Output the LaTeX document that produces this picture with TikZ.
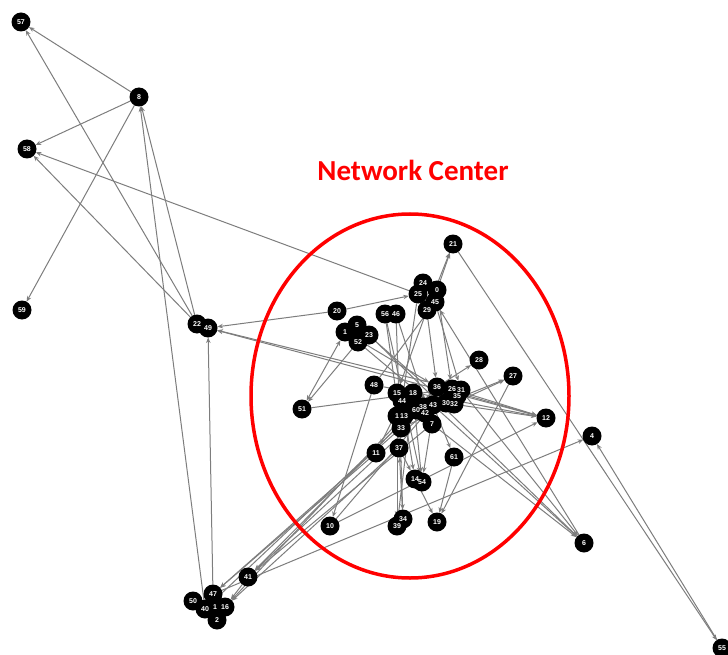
\documentclass[tikz,border=0pt]{standalone}
\usepackage{fontspec}
\setmainfont{Liberation Sans}
\newfontfamily\titlefont{Carlito}
\usetikzlibrary{arrows.meta}
\pgfdeclarelayer{edges}
\pgfsetlayers{edges,main}
\definecolor{edgegray}{RGB}{125,125,125}
\begin{document}
\begin{tikzpicture}[x=1pt,y=-1pt,
  vtx/.style={circle,fill=black,minimum size=19pt,inner sep=0pt,outer sep=0pt},
  vlbl/.style={text=white,font=\fontsize{7}{8}\selectfont\bfseries,inner sep=0pt},
  link/.style={draw=edgegray,line width=1pt,-{Stealth[length=5.5pt,width=4.5pt]}},
  dlink/.style={draw=edgegray,line width=1pt,{Stealth[length=5.5pt,width=4.5pt]}-{Stealth[length=5.5pt,width=4.5pt]}},
  hub/.style={draw=red,line width=3.5pt},
  headline/.style={text=red,font=\titlefont\bfseries\fontsize{29}{32}\selectfont}]
\useasboundingbox (0,0) rectangle (728,655);

% vertices: id / x / y / printed label
\def\vertices{57/21/22/57, 8/139/97/8, 58/27/149/58, 59/22/310/59,
  22/197/324/22, 49/208/328/49, 20/337/311/20, 56/385/314/56, 46/396/314/46,
  1/345/332/1, 5/357/325/5, 23/369/335/23, 52/358/342/52,
  24/423/283/24, 0/437/290/0, 25/418/294/25, 45/435/302/45, 29/427/310/29,
  21/453/244/21, 28/479/360/28, 27/513/376/27, 12/546/418/12, 4/592/436/4,
  55/722/648/55, 6/584/543/6, 48/374/385/48, 51/302/409/51,
  15/397/393/15, 18/413/393/18, 44/402/401/44, 36/437/387/36,
  26/452/389/26, 31/461/390/31, 35/457/396/35, 30/446/403/30, 32/454/404/32,
  43/433/405/43, 38/423/407/38, 42/425/413/42, 60/416/410/60,
  c1/397/416/1, 13/404/416/13, 33/401/428/33, 7/432/424/7,
  37/399/448/37, 11/376/453/11, 61/454/457/61, 14/415/479/14, 54/422/482/54,
  34/403/519/34, 39/397/526/39, 19/437/522/19, 10/330/526/10,
  41/248/577/41, 47/213/594/47, 50/193/601/50, 40/205/609/40,
  b1/215/607/1, 16/225/607/16, 2/217/620/2}

\foreach \id/\x/\y/\t in \vertices
  \node[vtx] (n\id) at (\x,\y) {};

% directed links
\begin{pgfonlayer}{edges}
\foreach \a/\b in {8/57, 22/57, 8/58, 22/58, 8/59, 22/8, 40/8, 25/58,
  47/49, 20/49, 12/49, 31/49, 20/25,
  21/55, 55/4, 47/4, 29/21, 0/21, 6/45,
  7/6, 43/6, 31/6, 23/6,
  26/12, 36/12, 30/12, 48/12, 10/12,
  30/27, 33/27, 27/19, 36/28, 43/61, 61/19, 14/19,
  37/14, 44/14, 18/54, 36/54, 56/54,
  15/39, 18/39, 34/37, 46/34,
  52/51, 51/26, 1/36, 5/30, 52/43, 56/33, 46/7, 24/36, 25/44, 29/15,
  45/31, 0/26, 48/45,
  10/43, 11/47, 33/47, 37/16, 7/41, 43/41, 36/41, 41/16, 13/16, 60/40,
  44/11, 48/10}
  \draw[link] (n\a) -- (n\b);
\draw[dlink] (n51) -- (n1);
\end{pgfonlayer}

% labels on top of all vertices
\foreach \id/\x/\y/\t in \vertices
  \node[vlbl] at (n\id) {\t};

% highlighted core
\draw[hub] (410,396) ellipse [x radius=159, y radius=182];
\node[headline] (title) at (413,170) {Network Center};
\end{tikzpicture}
\end{document}
